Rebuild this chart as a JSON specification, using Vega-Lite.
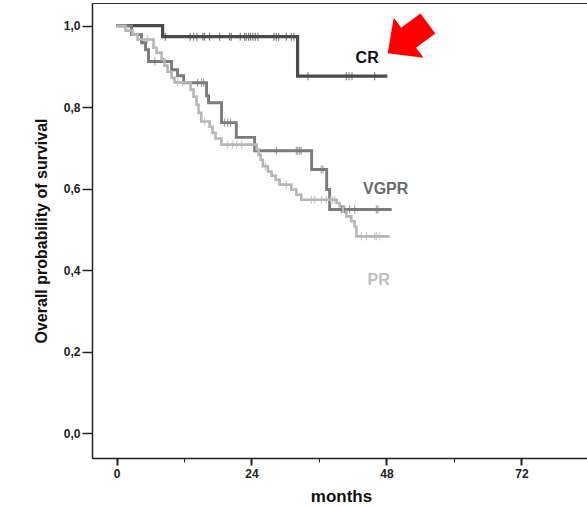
{
  "$schema": "https://vega.github.io/schema/vega-lite/v6.json",
  "width": 498,
  "height": 455,
  "autosize": {"type": "none"},
  "padding": {"left": 92, "top": 3, "right": 0, "bottom": 48},
  "background": "white",
  "config": {"view": {"stroke": "#333", "strokeWidth": 1}, "font": "Liberation Sans"},
  "datasets": {
    "km": [
      {"group": "CR", "month": 0, "survival": 1.0, "censored": 0},
      {"group": "CR", "month": 8.2, "survival": 0.973, "censored": 0},
      {"group": "CR", "month": 8.67, "survival": 0.973, "censored": 1},
      {"group": "CR", "month": 13.11, "survival": 0.973, "censored": 1},
      {"group": "CR", "month": 13.7, "survival": 0.973, "censored": 1},
      {"group": "CR", "month": 14.29, "survival": 0.973, "censored": 1},
      {"group": "CR", "month": 15.36, "survival": 0.973, "censored": 1},
      {"group": "CR", "month": 15.66, "survival": 0.973, "censored": 1},
      {"group": "CR", "month": 16.55, "survival": 0.973, "censored": 1},
      {"group": "CR", "month": 18.33, "survival": 0.973, "censored": 1},
      {"group": "CR", "month": 20.11, "survival": 0.973, "censored": 1},
      {"group": "CR", "month": 20.41, "survival": 0.973, "censored": 1},
      {"group": "CR", "month": 22.01, "survival": 0.973, "censored": 1},
      {"group": "CR", "month": 22.78, "survival": 0.973, "censored": 1},
      {"group": "CR", "month": 23.08, "survival": 0.973, "censored": 1},
      {"group": "CR", "month": 23.49, "survival": 0.973, "censored": 1},
      {"group": "CR", "month": 23.84, "survival": 0.973, "censored": 1},
      {"group": "CR", "month": 24.25, "survival": 0.973, "censored": 1},
      {"group": "CR", "month": 24.68, "survival": 0.973, "censored": 1},
      {"group": "CR", "month": 25.14, "survival": 0.973, "censored": 1},
      {"group": "CR", "month": 27.99, "survival": 0.973, "censored": 1},
      {"group": "CR", "month": 28.41, "survival": 0.973, "censored": 1},
      {"group": "CR", "month": 28.83, "survival": 0.973, "censored": 1},
      {"group": "CR", "month": 30.2, "survival": 0.973, "censored": 1},
      {"group": "CR", "month": 31.09, "survival": 0.973, "censored": 1},
      {"group": "CR", "month": 31.55, "survival": 0.973, "censored": 1},
      {"group": "CR", "month": 32.2, "survival": 0.876, "censored": 0},
      {"group": "CR", "month": 34.04, "survival": 0.876, "censored": 1},
      {"group": "CR", "month": 40.87, "survival": 0.876, "censored": 1},
      {"group": "CR", "month": 41.33, "survival": 0.876, "censored": 1},
      {"group": "CR", "month": 41.87, "survival": 0.876, "censored": 1},
      {"group": "CR", "month": 45.91, "survival": 0.876, "censored": 1},
      {"group": "CR", "month": 48.17, "survival": 0.876, "censored": 0},

      {"group": "VGPR", "month": 0, "survival": 1.0, "censored": 0},
      {"group": "VGPR", "month": 2.67, "survival": 0.978, "censored": 0},
      {"group": "VGPR", "month": 4.45, "survival": 0.958, "censored": 0},
      {"group": "VGPR", "month": 5.16, "survival": 0.941, "censored": 0},
      {"group": "VGPR", "month": 5.69, "survival": 0.912, "censored": 0},
      {"group": "VGPR", "month": 6.81, "survival": 0.912, "censored": 1},
      {"group": "VGPR", "month": 9.79, "survival": 0.892, "censored": 0},
      {"group": "VGPR", "month": 10.85, "survival": 0.877, "censored": 0},
      {"group": "VGPR", "month": 11.92, "survival": 0.86, "censored": 0},
      {"group": "VGPR", "month": 14.41, "survival": 0.86, "censored": 1},
      {"group": "VGPR", "month": 15.12, "survival": 0.86, "censored": 1},
      {"group": "VGPR", "month": 15.48, "survival": 0.86, "censored": 1},
      {"group": "VGPR", "month": 16.01, "survival": 0.828, "censored": 0},
      {"group": "VGPR", "month": 16.37, "survival": 0.811, "censored": 0},
      {"group": "VGPR", "month": 18.68, "survival": 0.762, "censored": 0},
      {"group": "VGPR", "month": 19.22, "survival": 0.762, "censored": 1},
      {"group": "VGPR", "month": 19.75, "survival": 0.762, "censored": 1},
      {"group": "VGPR", "month": 20.28, "survival": 0.762, "censored": 1},
      {"group": "VGPR", "month": 21.3, "survival": 0.726, "censored": 0},
      {"group": "VGPR", "month": 24.56, "survival": 0.693, "censored": 0},
      {"group": "VGPR", "month": 28.42, "survival": 0.693, "censored": 1},
      {"group": "VGPR", "month": 31.98, "survival": 0.693, "censored": 1},
      {"group": "VGPR", "month": 32.26, "survival": 0.693, "censored": 1},
      {"group": "VGPR", "month": 32.56, "survival": 0.693, "censored": 1},
      {"group": "VGPR", "month": 32.86, "survival": 0.693, "censored": 1},
      {"group": "VGPR", "month": 34.7, "survival": 0.647, "censored": 0},
      {"group": "VGPR", "month": 36.42, "survival": 0.647, "censored": 1},
      {"group": "VGPR", "month": 36.71, "survival": 0.647, "censored": 1},
      {"group": "VGPR", "month": 37.37, "survival": 0.598, "censored": 0},
      {"group": "VGPR", "month": 37.9, "survival": 0.549, "censored": 0},
      {"group": "VGPR", "month": 39.98, "survival": 0.549, "censored": 1},
      {"group": "VGPR", "month": 40.57, "survival": 0.549, "censored": 1},
      {"group": "VGPR", "month": 41.46, "survival": 0.549, "censored": 1},
      {"group": "VGPR", "month": 42.35, "survival": 0.549, "censored": 1},
      {"group": "VGPR", "month": 46.21, "survival": 0.549, "censored": 1},
      {"group": "VGPR", "month": 46.49, "survival": 0.549, "censored": 1},
      {"group": "VGPR", "month": 48.93, "survival": 0.549, "censored": 0},

      {"group": "PR", "month": 0, "survival": 1.0, "censored": 0},
      {"group": "PR", "month": 1.6, "survival": 0.988, "censored": 0},
      {"group": "PR", "month": 2.85, "survival": 0.978, "censored": 0},
      {"group": "PR", "month": 3.74, "survival": 0.966, "censored": 0},
      {"group": "PR", "month": 5.52, "survival": 0.966, "censored": 1},
      {"group": "PR", "month": 6.58, "survival": 0.946, "censored": 0},
      {"group": "PR", "month": 7.12, "survival": 0.934, "censored": 0},
      {"group": "PR", "month": 8.01, "survival": 0.917, "censored": 0},
      {"group": "PR", "month": 8.54, "survival": 0.902, "censored": 0},
      {"group": "PR", "month": 9.07, "survival": 0.887, "censored": 0},
      {"group": "PR", "month": 9.79, "survival": 0.872, "censored": 0},
      {"group": "PR", "month": 10.32, "survival": 0.861, "censored": 0},
      {"group": "PR", "month": 10.85, "survival": 0.861, "censored": 1},
      {"group": "PR", "month": 11.74, "survival": 0.861, "censored": 1},
      {"group": "PR", "month": 13.17, "survival": 0.843, "censored": 0},
      {"group": "PR", "month": 13.7, "survival": 0.826, "censored": 0},
      {"group": "PR", "month": 14.23, "survival": 0.806, "censored": 0},
      {"group": "PR", "month": 14.59, "survival": 0.786, "censored": 0},
      {"group": "PR", "month": 15.07, "survival": 0.765, "censored": 0},
      {"group": "PR", "month": 15.66, "survival": 0.765, "censored": 1},
      {"group": "PR", "month": 16.55, "survival": 0.752, "censored": 0},
      {"group": "PR", "month": 17.08, "survival": 0.737, "censored": 0},
      {"group": "PR", "month": 17.62, "survival": 0.723, "censored": 0},
      {"group": "PR", "month": 18.63, "survival": 0.708, "censored": 0},
      {"group": "PR", "month": 19.75, "survival": 0.708, "censored": 1},
      {"group": "PR", "month": 20.64, "survival": 0.708, "censored": 1},
      {"group": "PR", "month": 21.35, "survival": 0.708, "censored": 1},
      {"group": "PR", "month": 22.24, "survival": 0.708, "censored": 1},
      {"group": "PR", "month": 24.91, "survival": 0.696, "censored": 0},
      {"group": "PR", "month": 25.27, "survival": 0.683, "censored": 0},
      {"group": "PR", "month": 25.62, "survival": 0.671, "censored": 0},
      {"group": "PR", "month": 26.03, "survival": 0.655, "censored": 0},
      {"group": "PR", "month": 26.5, "survival": 0.655, "censored": 1},
      {"group": "PR", "month": 26.92, "survival": 0.642, "censored": 0},
      {"group": "PR", "month": 27.58, "survival": 0.632, "censored": 0},
      {"group": "PR", "month": 28.29, "survival": 0.622, "censored": 0},
      {"group": "PR", "month": 29.0, "survival": 0.61, "censored": 0},
      {"group": "PR", "month": 30.2, "survival": 0.61, "censored": 1},
      {"group": "PR", "month": 31.09, "survival": 0.598, "censored": 0},
      {"group": "PR", "month": 31.98, "survival": 0.585, "censored": 0},
      {"group": "PR", "month": 32.86, "survival": 0.573, "censored": 0},
      {"group": "PR", "month": 34.64, "survival": 0.573, "censored": 1},
      {"group": "PR", "month": 35.23, "survival": 0.573, "censored": 1},
      {"group": "PR", "month": 36.42, "survival": 0.573, "censored": 1},
      {"group": "PR", "month": 37.31, "survival": 0.573, "censored": 1},
      {"group": "PR", "month": 38.08, "survival": 0.573, "censored": 1},
      {"group": "PR", "month": 38.43, "survival": 0.573, "censored": 1},
      {"group": "PR", "month": 38.79, "survival": 0.573, "censored": 1},
      {"group": "PR", "month": 39.15, "survival": 0.565, "censored": 0},
      {"group": "PR", "month": 39.68, "survival": 0.557, "censored": 0},
      {"group": "PR", "month": 40.27, "survival": 0.544, "censored": 0},
      {"group": "PR", "month": 40.87, "survival": 0.532, "censored": 0},
      {"group": "PR", "month": 41.76, "survival": 0.52, "censored": 0},
      {"group": "PR", "month": 42.35, "survival": 0.507, "censored": 0},
      {"group": "PR", "month": 42.65, "survival": 0.483, "censored": 0},
      {"group": "PR", "month": 43.54, "survival": 0.483, "censored": 1},
      {"group": "PR", "month": 44.43, "survival": 0.483, "censored": 1},
      {"group": "PR", "month": 45.91, "survival": 0.483, "censored": 1},
      {"group": "PR", "month": 46.21, "survival": 0.483, "censored": 1},
      {"group": "PR", "month": 46.8, "survival": 0.483, "censored": 1},
      {"group": "PR", "month": 48.58, "survival": 0.483, "censored": 0}
    ],
    "labels": [
      {"label": "CR", "month": 44.57, "survival": 0.921},
      {"label": "VGPR", "month": 47.86, "survival": 0.599},
      {"label": "PR", "month": 46.62, "survival": 0.377}
    ],
    "arrow": [
      {"label": "CR", "month": 51.8, "survival": 0.969}
    ]
  },
  "layer": [
    {
      "data": {"name": "km"},
      "mark": {"type": "line", "interpolate": "step-after", "strokeCap": "butt"},
      "encoding": {
        "x": {
          "field": "month", "type": "quantitative",
          "scale": {"domain": [-4.36, 84.2], "nice": false, "zero": false},
          "axis": {
            "values": [0, 12, 24, 36, 48, 60, 72],
            "labelExpr": "datum.value % 24 === 0 ? datum.label : ''",
            "tickSize": {"condition": {"test": "datum.value % 24 === 0", "value": 7}, "value": 4},
            "tickWidth": {"condition": {"test": "datum.value % 24 === 0", "value": 2}, "value": 1},
            "grid": false,
            "domainColor": "#222", "domainWidth": 1.5, "tickColor": "#222",
            "labelFont": "Liberation Sans", "labelFontWeight": "bold", "labelFontSize": 12,
            "labelColor": "#222", "labelPadding": 3, "labelOverlap": false,
            "title": "months", "titleFont": "Liberation Sans", "titleFontSize": 17,
            "titleFontWeight": "bold", "titleColor": "#111", "titlePadding": 9
          }
        },
        "y": {
          "field": "survival", "type": "quantitative",
          "scale": {"domain": [-0.061, 1.0557], "nice": false, "zero": false},
          "axis": {
            "values": [0, 0.2, 0.4, 0.6, 0.8, 1.0],
            "labelExpr": "replace(format(datum.value, '.1f'), '.', ',')",
            "grid": false, "tickSize": 10, "tickWidth": 1.5,
            "domainColor": "#222", "domainWidth": 1.5, "tickColor": "#222",
            "labelFont": "Liberation Sans", "labelFontWeight": "bold", "labelFontSize": 12,
            "labelColor": "#222", "labelPadding": 2,
            "title": "Overall probability of survival", "titleFont": "Liberation Sans",
            "titleFontSize": 16, "titleFontWeight": "bold", "titleColor": "#111", "titlePadding": 14
          }
        },
        "color": {
          "field": "group", "type": "nominal",
          "scale": {"domain": ["CR", "VGPR", "PR"], "range": ["#4a4a4a", "#7b7b7b", "#b6b6b6"]},
          "legend": null
        },
        "strokeWidth": {
          "field": "group", "type": "nominal",
          "scale": {"domain": ["CR", "VGPR", "PR"], "range": [3.2, 2.6, 2.6]},
          "legend": null
        },
        "order": {"field": "month", "type": "quantitative"}
      }
    },
    {
      "data": {"name": "km"},
      "transform": [{"filter": "datum.censored === 1"}],
      "mark": {"type": "tick", "orient": "vertical", "size": 8, "thickness": 1.2},
      "encoding": {
        "x": {"field": "month", "type": "quantitative"},
        "y": {"field": "survival", "type": "quantitative"},
        "color": {"field": "group", "type": "nominal"}
      }
    },
    {
      "data": {"name": "labels"},
      "transform": [{"filter": "datum.label === 'CR'"}],
      "mark": {"type": "text", "font": "Liberation Sans", "fontWeight": "bold", "fontSize": 16, "color": "#111", "align": "center", "baseline": "middle"},
      "encoding": {
        "x": {"field": "month", "type": "quantitative"},
        "y": {"field": "survival", "type": "quantitative"},
        "text": {"field": "label"}
      }
    },
    {
      "data": {"name": "labels"},
      "transform": [{"filter": "datum.label === 'VGPR'"}],
      "mark": {"type": "text", "font": "Liberation Sans", "fontWeight": "bold", "fontSize": 16, "color": "#6b6b6b", "align": "center", "baseline": "middle"},
      "encoding": {
        "x": {"field": "month", "type": "quantitative"},
        "y": {"field": "survival", "type": "quantitative"},
        "text": {"field": "label"}
      }
    },
    {
      "data": {"name": "labels"},
      "transform": [{"filter": "datum.label === 'PR'"}],
      "mark": {"type": "text", "font": "Liberation Sans", "fontWeight": "bold", "fontSize": 16, "color": "#bdbdbd", "align": "center", "baseline": "middle"},
      "encoding": {
        "x": {"field": "month", "type": "quantitative"},
        "y": {"field": "survival", "type": "quantitative"},
        "text": {"field": "label"}
      }
    },
    {
      "data": {"name": "arrow"},
      "mark": {
        "type": "point", "filled": true, "color": "#ff0000", "opacity": 1,
        "size": 2500, "angle": 143.5, "strokeWidth": 0,
        "shape": "M 1 0 L -0.04 -1 L -0.04 -0.5 L -1 -0.5 L -1 0.5 L -0.04 0.5 L -0.04 1 Z"
      },
      "encoding": {
        "x": {"field": "month", "type": "quantitative"},
        "y": {"field": "survival", "type": "quantitative"}
      }
    }
  ]
}
